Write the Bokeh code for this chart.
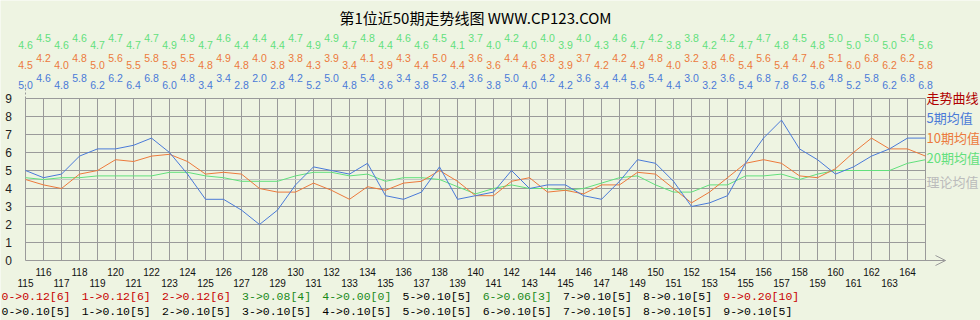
from bokeh.plotting import figure
from bokeh.models import ColumnDataSource
from bokeh.core.properties import value
from bokeh.embed import file_html
from bokeh.resources import INLINE

# ---------------- data ----------------
title_text = "第1位近50期走势线图 WWW.CP123.COM"
periods = list(range(115, 165))
ma5 = [5.0, 4.6, 4.8, 5.8, 6.2, 6.2, 6.4, 6.8, 6.0, 4.8, 3.4, 3.4, 2.8, 2.0, 2.8, 4.2, 5.2,
       5.0, 4.8, 5.4, 3.6, 3.4, 3.8, 5.2, 3.4, 3.6, 3.8, 5.0, 4.0, 4.2, 4.2, 3.6, 3.4, 4.4, 5.6,
       5.4, 4.4, 3.0, 3.2, 3.6, 5.4, 6.8, 7.8, 6.2, 5.6, 4.8, 5.2, 5.8, 6.2, 6.8, 6.8]
ma10 = [4.5, 4.2, 4.0, 4.8, 5.0, 5.6, 5.5, 5.8, 5.9, 5.5, 4.8, 4.9, 4.8, 4.0, 3.8, 3.8, 4.3,
        3.9, 3.4, 4.1, 3.9, 4.3, 4.4, 5.0, 4.4, 3.6, 3.6, 4.4, 4.6, 3.8, 3.9, 3.7, 4.2, 4.2, 4.9,
        4.8, 4.0, 3.2, 3.8, 4.6, 5.4, 5.6, 5.4, 4.7, 4.6, 5.1, 6.0, 6.8, 6.2, 6.2, 5.8]
ma20 = [4.6, 4.5, 4.6, 4.6, 4.7, 4.7, 4.7, 4.7, 4.9, 4.9, 4.7, 4.6, 4.4, 4.4, 4.4, 4.7, 4.9,
        4.9, 4.7, 4.8, 4.4, 4.6, 4.6, 4.5, 4.1, 3.7, 4.0, 4.2, 4.0, 4.0, 3.9, 4.0, 4.3, 4.6, 4.7,
        4.2, 3.8, 3.8, 4.2, 4.2, 4.7, 4.7, 4.8, 4.5, 4.8, 5.0, 5.0, 5.0, 5.0, 5.4, 5.6]
theory_mean = 4.5
y_ticks = list(range(0, 10))
legend_labels = ["走势曲线", "5期均值", "10期均值", "20期均值", "理论均值"]
digits = list(range(10))
counts = [6, 6, 6, 4, 0, 5, 3, 5, 5, 10]
expected = [5, 5, 5, 5, 5, 5, 5, 5, 5, 5]
n_draws = 50

# ---------------- style ----------------
BG = "#EEF4E2"
GRID = "#9A9A9A"
C_TREND = "#B00000"
C5 = "#4A7AD8"
C10 = "#EC7A3C"
C20 = "#62E07C"
C_TH = "#C4C4C4"
W, H = 980, 320
X0, XS = 25, 18      # pixel of first period, pixels per period
Y0, YS = 260, 18     # pixel of value 0, pixels per unit

def px_x(px):
    return (px - X0) / XS

def px_y(py):
    return (Y0 - py) / YS

p = figure(width=W, height=H, x_range=(px_x(0), px_x(W)), y_range=(px_y(H), px_y(0)),
           output_backend="svg", toolbar_location=None, min_border=0,
           x_axis_location=None, y_axis_location=None)
p.grid.visible = False
p.outline_line_color = None
p.background_fill_color = BG
p.border_fill_color = BG

npts = len(ma5)
idx = list(range(npts))
ymax = max(y_ticks)

# grid
p.segment(x0=idx, y0=[0] * npts, x1=idx, y1=[ymax] * npts, line_color=GRID, line_width=1)
p.segment(x0=[0] * ymax, y0=y_ticks[1:], x1=[npts - 1] * ymax, y1=y_ticks[1:],
          line_color=GRID, line_width=1)
# axes
xa_end = px_x(945)
p.segment(x0=[0], y0=[0], x1=[xa_end], y1=[0], line_color=GRID, line_width=1)
p.segment(x0=[xa_end, xa_end], y0=[0, 0], x1=[xa_end - 10 / XS] * 2, y1=[5 / YS, -5 / YS],
          line_color=GRID, line_width=1)
p.segment(x0=[0], y0=[ymax], x1=[0], y1=[px_y(82)], line_color=GRID, line_width=1,
          line_dash="2 2")

# lines
p.line(x=[0, npts - 1], y=[theory_mean, theory_mean], line_color=C_TH, line_width=1)
p.line(x=idx, y=ma20, line_color=C20, line_width=1)
p.line(x=idx, y=ma10, line_color=C10, line_width=1)
p.line(x=idx, y=ma5, line_color=C5, line_width=1)

# y tick labels
p.text(x=[px_x(8)] * len(y_ticks), y=y_ticks, text=[str(t) for t in y_ticks],
       text_font=value("Liberation Sans"), text_font_size="12px", text_color="#222222",
       text_align="center", text_baseline="middle")

# x tick labels (two staggered rows)
xl_y = [px_y(282) if i % 2 == 0 else px_y(271) for i in range(len(periods))]
p.text(x=list(range(len(periods))), y=xl_y, text=[str(v) for v in periods],
       text_font=value("Liberation Sans"), text_font_size="10px", text_color="#111111",
       text_align="center", text_baseline="middle")

# value rows on top
def value_row(vals, low_px, high_px, color):
    ys = [px_y(low_px) if i % 2 == 0 else px_y(high_px) for i in range(len(vals))]
    src = ColumnDataSource(dict(x=list(range(len(vals))), y=ys, t=[f"{v:.1f}" for v in vals]))
    p.text(x="x", y="y", text="t", source=src, text_font=value("Liberation Sans"),
           text_font_size="10.5px", text_color=color, text_align="center",
           text_baseline="middle")

value_row(ma20, 44, 37, C20)
value_row(ma10, 64, 57, C10)
value_row(ma5, 84, 77, C5)

# title
p.text(x=[px_x(475)], y=[px_y(17)], text=[title_text], text_font=value("Noto Sans CJK SC"),
       text_font_size="15px", text_color="#000000", text_align="center",
       text_baseline="middle")

# legend texts
leg_colors = [C_TREND, C5, C10, C20, "#BBBBBB"]
leg_py = [97, 117, 137, 157, 181]
p.text(x=[px_x(926)] * len(legend_labels), y=[px_y(v) for v in leg_py], text=legend_labels,
       text_font=value("Noto Sans CJK SC"), text_font_size="13px", text_color=leg_colors,
       text_align="left", text_baseline="middle")

# bottom statistics rows
def stat_color(c, e):
    if c > e:
        return "#C80000"
    if c < e:
        return "#1A8A1A"
    return "#000000"

bx = [px_x(1 + 80.2 * k) for k in range(len(digits))]
row1 = [f"{d}->{c / n_draws:.2f}[{c}]" for d, c in zip(digits, counts)]
row2 = [f"{d}->{e / n_draws:.2f}[{e}]" for d, e in zip(digits, expected)]
p.text(x=bx, y=[px_y(296)] * len(digits), text=row1, text_font=value("Liberation Mono"),
       text_font_size="11.5px", text_color=[stat_color(c, e) for c, e in zip(counts, expected)],
       text_align="left", text_baseline="middle")
p.text(x=bx, y=[px_y(311)] * len(digits), text=row2, text_font=value("Liberation Mono"),
       text_font_size="11.5px", text_color="#000000", text_align="left",
       text_baseline="middle")

open("out.html", "w").write(file_html(p, INLINE))
